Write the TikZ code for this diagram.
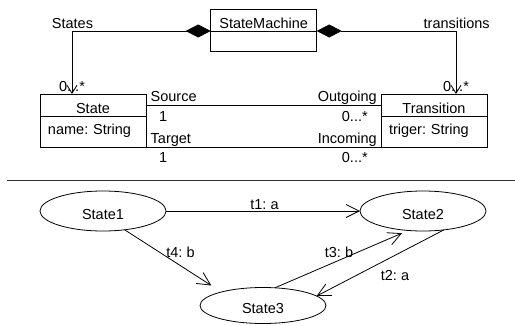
\documentclass[tikz,border=0pt]{standalone}
\usepackage{fontspec}
\setmainfont{Liberation Sans}
\usetikzlibrary{arrows.meta,shapes.geometric}
\frenchspacing
\begin{document}
\begin{tikzpicture}[x=1pt,y=-1pt,
  every node/.style={font=\fontsize{14.5}{17}\selectfont, outer sep=0pt},
  umlbox/.style={draw, line width=0.8pt, minimum width=106pt, inner sep=0pt,
    text height=16pt, text depth=0pt},
  umlhead/.style={umlbox, minimum height=22pt},
  umlattrs/.style={umlbox, text height=5.6pt, text width=90pt, inner xsep=8pt, align=left},
  stnode/.style={ellipse, draw, line width=0.8pt, minimum width=126pt,
    minimum height=40pt, inner sep=0pt, text height=16pt, text depth=0pt},
  lbl/.style={inner sep=0pt, anchor=base},
  assocline/.style={line width=0.8pt},
  compline/.style={line width=0.8pt,
    {Diamond[length=25pt,width=13pt]}-{Straight Barb[length=8pt,width=10pt]}},
  transline/.style={line width=0.8pt, -{Straight Barb[length=13pt,width=13pt]}}
]
\useasboundingbox (0,0) rectangle (515,325);

% --- class diagram ---
\node[umlhead] (smt) at (263.7,20) {StateMachine};
\node[umlbox, minimum height=20pt] (smb) at (263.7,41) {};

\node[umlhead] (stt) at (93,105) {State};
\node[umlattrs, minimum height=31pt] (stb) at (93,131.5) {name: String};

\node[umlhead] (trt) at (434,105) {Transition};
\node[umlattrs, minimum height=31pt] (trb) at (434,131.5) {triger: String};

% compositions
\draw[compline] (smt.south west) -| ([xshift=32pt]stt.north west);
\draw[compline] (smt.south east) -| ([xshift=-31pt]trt.north east);
\node[lbl] (lStates) at (72.5,28.3) {States};
\node[lbl] (lTransitions) at (456.7,28.3) {transitions};
\node[lbl] (mStates) at (72,91) {0...*};
\node[lbl] (mTransitions) at (456,91) {0...*};

% associations
\draw[assocline] (stt.east) -- (trt.west);
\draw[assocline] (stb.south east) -- (trb.south west);
\node[lbl, anchor=base west] (lSource) at (150.7,101.7) {Source};
\node[lbl] (mSource) at (163.2,121.7) {1};
\node[lbl, anchor=base west] (lTarget) at (150.7,143.3) {Target};
\node[lbl] (mTarget) at (163.2,162.7) {1};
\node[lbl, anchor=base east] (lOutgoing) at (376.7,101.7) {Outgoing};
\node[lbl, anchor=base east] (mOutgoing) at (367.7,121.7) {0...*};
\node[lbl, anchor=base east] (lIncoming) at (376.7,143.3) {Incoming};
\node[lbl, anchor=base east] (mIncoming) at (367.7,162.7) {0...*};

% separator
\coordinate (sepL) at (7,180);
\coordinate (sepR) at (515,180);
\draw[line width=1pt, black!80] (sepL) -- (sepR);

% --- state machine instance ---
\node[stnode] (s1) at (103,211) {State1};
\node[stnode] (s2) at (423,211) {State2};
\node[stnode, minimum height=36pt] (s3) at (263,305.5) {State3};

\draw[transline] (s1.east) -- (s2.west);
\draw[transline, shorten >=12pt] (s1.-41) -- (s3.162);
\draw[transline, shorten >=7pt] (s3.56) -- (s2.233);
\draw[transline] (s2.-42) -- (s3.10);

\node[lbl] (lt1) at (264.5,209.5) {t1: a};
\node[lbl] (lt4) at (180.5,257.3) {t4: b};
\node[lbl] (lt3) at (339,257.3) {t3: b};
\node[lbl] (lt2) at (395,280.7) {t2: a};
\end{tikzpicture}
\end{document}
